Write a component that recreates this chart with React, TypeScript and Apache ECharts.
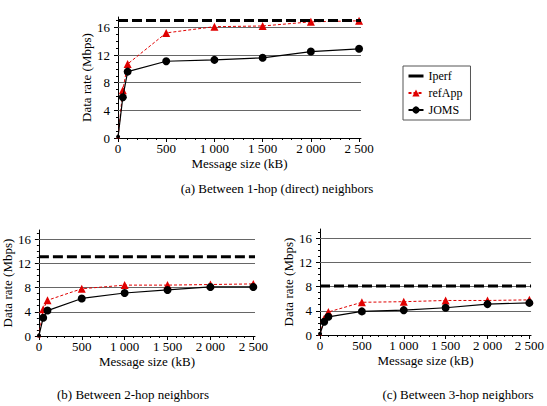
import React, { useEffect, useRef } from "react";
import * as echarts from "echarts";

const messageSizes = [1, 50, 100, 500, 1000, 1500, 2000, 2500];
const iperfX = [0, 2520];

const jomsA = [0.2, 5.9, 9.6, 11.1, 11.3, 11.6, 12.5, 12.9];
const refAppA = [0.2, 6.9, 10.7, 15.2, 16.1, 16.2, 16.8, 16.95];
const iperfA = 17;

const jomsB = [0.1, 3.0, 4.2, 6.2, 7.1, 7.6, 8.1, 8.1];
const refAppB = [0.1, 4.4, 5.9, 7.8, 8.4, 8.4, 8.5, 8.6];
const iperfB = 13.1;

const jomsC = [0.2, 2.2, 3.0, 3.9, 4.1, 4.5, 5.1, 5.3];
const refAppC = [0.2, 2.7, 3.8, 5.4, 5.5, 5.7, 5.7, 5.8];
const iperfC = 8.1;

const xTicks = [0, 500, 1000, 1500, 2000, 2500];
const yTicks = [0, 4, 8, 12, 16];
const gridValues = [4, 8, 12, 16];

const captions = [
  "(a) Between 1-hop (direct) neighbors",
  "(b) Between 2-hop neighbors",
  "(c) Between 3-hop neighbors",
];

const FONT = "'Liberation Serif', 'Times New Roman', serif";
const FS = 13;

const fmt = (v: number) => {
  if (v >= 1000) {
    const s = String(Math.round(v));
    return s.slice(0, s.length - 3) + " " + s.slice(s.length - 3);
  }
  return String(v);
};

const markerSize = (v: number[]) => (v[0] < 10 ? 4 : 8);

export default function App() {
  const ref = useRef<HTMLDivElement>(null);
  useEffect(() => {
    if (!ref.current) return;
    const chart = echarts.init(ref.current, undefined, { renderer: "svg" });

    const grids = [
      { left: 118, top: 17, width: 243, height: 121 },
      { left: 33, top: 230, width: 222, height: 106 },
      { left: 320, top: 229, width: 223, height: 106 },
    ];
    const captionPos = [
      [277, 188],
      [133, 394],
      [458, 394],
    ];
    const sets = [
      [jomsA, refAppA, iperfA],
      [jomsB, refAppB, iperfB],
      [jomsC, refAppC, iperfC],
    ] as [number[], number[], number][];

    const xAxes = grids.map((_, i) => ({
      type: "value",
      gridIndex: i,
      min: 0,
      max: 2520,
      interval: 500,
      name: "Message size (kB)",
      nameLocation: "middle",
      nameGap: 19,
      nameTextStyle: { fontFamily: FONT, fontSize: FS, color: "#000" },
      axisLine: { show: true, lineStyle: { color: "#000", width: 1 } },
      axisTick: { show: true, length: 4, customValues: xTicks, lineStyle: { color: "#000" } },
      minorTick: { show: true, splitNumber: 5, length: 2, lineStyle: { color: "#000" } },
      axisLabel: {
        customValues: xTicks,
        formatter: (v: number) => fmt(v),
        fontFamily: FONT,
        fontSize: FS,
        color: "#000",
        margin: 4,
      },
      splitLine: { show: false },
    }));

    const yAxes = grids.map((_, i) => ({
      type: "value",
      gridIndex: i,
      min: 0,
      max: 17.5,
      interval: 4,
      name: "Data rate (Mbps)",
      nameLocation: "middle",
      nameGap: 21,
      nameTextStyle: { fontFamily: FONT, fontSize: FS, color: "#000" },
      axisLine: { show: true, lineStyle: { color: "#000", width: 1 } },
      axisTick: { show: true, length: 4, customValues: yTicks, lineStyle: { color: "#000" } },
      minorTick: { show: true, splitNumber: 4, length: 2, lineStyle: { color: "#000" } },
      axisLabel: {
        customValues: yTicks,
        fontFamily: FONT,
        fontSize: FS,
        color: "#000",
        margin: 8,
      },
      splitLine: { show: false },
    }));

    const series: any[] = [];
    sets.forEach(([joms, refApp, iperf], i) => {
      series.push({
        name: "Iperf",
        type: "line",
        xAxisIndex: i,
        yAxisIndex: i,
        data: iperfX.map((x) => [x, iperf]),
        symbol: "none",
        z: 4,
        lineStyle: { color: "#000", width: 3, type: [10, 4] },
        itemStyle: { color: "#000" },
        markLine: {
          silent: true,
          symbol: "none",
          label: { show: false },
          lineStyle: { color: "#666", width: 1, type: "solid" },
          data: gridValues.map((v) => ({ yAxis: v })),
          z: 1,
        },
      });
      series.push({
        name: "refApp",
        type: "line",
        xAxisIndex: i,
        yAxisIndex: i,
        data: messageSizes.map((x, k) => [x, refApp[k]]),
        symbol: "triangle",
        symbolSize: markerSize,
        z: 2,
        lineStyle: { color: "#e00000", width: 1, type: [3, 2] },
        itemStyle: { color: "#e00000" },
      });
      series.push({
        name: "JOMS",
        type: "line",
        xAxisIndex: i,
        yAxisIndex: i,
        data: messageSizes.map((x, k) => [x, joms[k]]),
        symbol: "circle",
        symbolSize: markerSize,
        z: 3,
        lineStyle: { color: "#000", width: 1.2 },
        itemStyle: { color: "#000" },
      });
    });

    chart.setOption({
      animation: false,
      backgroundColor: "#fff",
      grid: grids,
      xAxis: xAxes,
      yAxis: yAxes,
      legend: {
        left: 403,
        top: 66,
        orient: "vertical",
        padding: [4, 8, 4, 4],
        itemWidth: 15,
        itemHeight: 9,
        itemGap: 5,
        borderColor: "#555",
        borderWidth: 1,
        backgroundColor: "#fff",
        textStyle: { fontFamily: FONT, fontSize: 12, color: "#000" },
        data: [
          {
            name: "Iperf",
            itemStyle: { opacity: 0 },
            lineStyle: { type: "solid", width: 3 },
          } as any,
          { name: "refApp", symbolSize: 8 } as any,
          { name: "JOMS", symbolSize: 8 } as any,
        ],
      },
      graphic: captions.map((t, i) => ({
        type: "text",
        x: captionPos[i][0],
        y: captionPos[i][1],
        style: {
          text: t,
          align: "center",
          verticalAlign: "middle",
          fontFamily: FONT,
          fontSize: FS,
          fill: "#000",
        },
      })),
      series,
    });
    return () => chart.dispose();
  }, []);
  return (
    <div
      ref={ref}
      style={{ position: "fixed", left: 0, top: 0, width: 547, height: 406 }}
    />
  );
}
